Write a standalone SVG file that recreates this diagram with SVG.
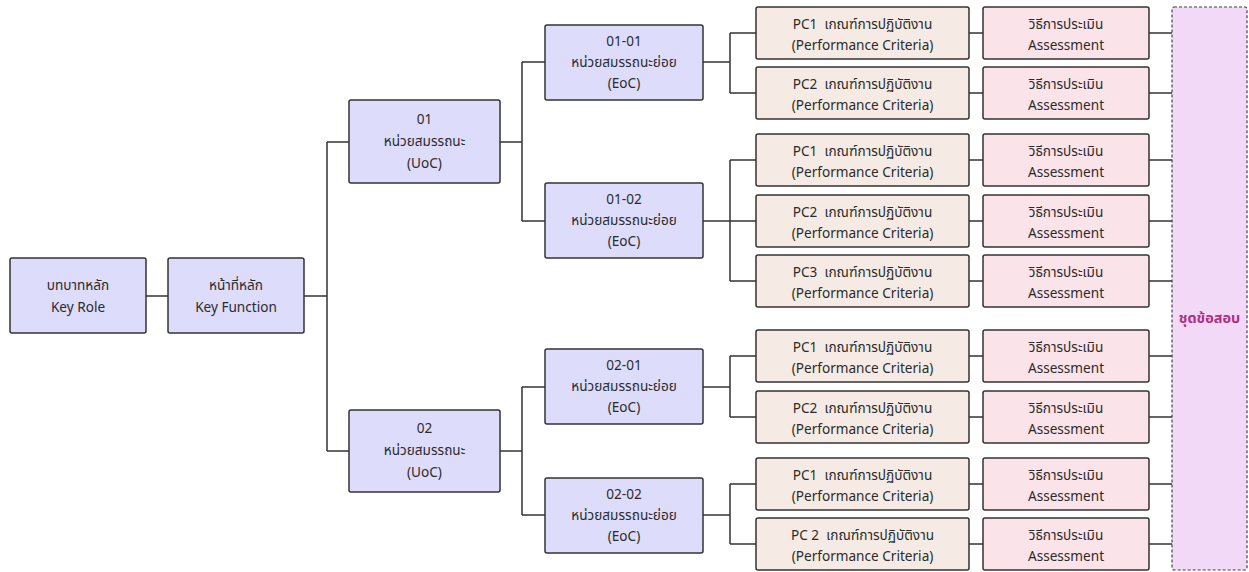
<svg xmlns="http://www.w3.org/2000/svg" width="1249" height="572" viewBox="0 0 1249 572">
<style>
text{font-family:"Noto Sans Thai","Tahoma","Liberation Sans",sans-serif;font-size:13.6px;fill:#2b2b2b;text-anchor:middle}
.box{stroke:#333;stroke-width:1.5}
.role{fill:#dedcfb}
.pc{fill:#f5ebe4}
.as{fill:#fbe3ea}
.set{fill:#f1d9f7;stroke:#444;stroke-width:1.2;stroke-dasharray:3 2}
.set-t{fill:#b03080;font-weight:bold;font-size:14.5px}
#connectors path{fill:none;stroke:#333;stroke-width:1.5}
</style>
<rect width="1249" height="572" fill="#fff"/>
<g id="connectors">
<path d="M146 296H168"/>
<path d="M304 296H327M327 142V451M327 142H349M327 451H349"/>
<path d="M500 142H522M522 62V221M522 62H545M522 221H545"/>
<path d="M500 451H522M522 387V515M522 387H545M522 515H545"/>
<path d="M703 62H730M730 33V93M730 33H756M730 93H756"/>
<path d="M703 221H730M730 160V281M730 160H756M730 221H756M730 281H756"/>
<path d="M703 387H730M730 356V417M730 356H756M730 417H756"/>
<path d="M703 515H730M730 484V544M730 484H756M730 544H756"/>
<path d="M969 33H983M969 93H983M969 160H983M969 221H983M969 281H983M969 356H983M969 417H983M969 484H983M969 544H983"/>
<path d="M1149 33H1172M1149 93H1172M1149 160H1172M1149 221H1172M1149 281H1172M1149 356H1172M1149 417H1172M1149 484H1172M1149 544H1172"/>
</g>
<g id="key-role"><rect class="box role" x="10" y="258" width="136" height="75" rx="2"/><text x="78" y="290">บทบาทหลัก</text><text x="78" y="312">Key Role</text></g>
<g id="key-function"><rect class="box role" x="168" y="258" width="136" height="75" rx="2"/><text x="236" y="290">หน้าที่หลัก</text><text x="236" y="312">Key Function</text></g>
<g id="uoc-01"><rect class="box role" x="349" y="100" width="151" height="83" rx="2"/><text x="424.5" y="124">01</text><text x="424.5" y="146">หน่วยสมรรถนะ</text><text x="424.5" y="168">(UoC)</text></g>
<g id="uoc-02"><rect class="box role" x="349" y="410" width="151" height="82" rx="2"/><text x="424.5" y="433">02</text><text x="424.5" y="455">หน่วยสมรรถนะ</text><text x="424.5" y="477">(UoC)</text></g>
<g id="eoc-01-01"><rect class="box role" x="545" y="25" width="158" height="75" rx="2"/><text x="624" y="46">01-01</text><text x="624" y="67">หน่วยสมรรถนะย่อย</text><text x="624" y="88">(EoC)</text></g>
<g id="eoc-01-02"><rect class="box role" x="545" y="183" width="158" height="75" rx="2"/><text x="624" y="204">01-02</text><text x="624" y="225">หน่วยสมรรถนะย่อย</text><text x="624" y="246">(EoC)</text></g>
<g id="eoc-02-01"><rect class="box role" x="545" y="349" width="158" height="75" rx="2"/><text x="624" y="370">02-01</text><text x="624" y="391">หน่วยสมรรถนะย่อย</text><text x="624" y="412">(EoC)</text></g>
<g id="eoc-02-02"><rect class="box role" x="545" y="478" width="158" height="75" rx="2"/><text x="624" y="499">02-02</text><text x="624" y="520">หน่วยสมรรถนะย่อย</text><text x="624" y="541">(EoC)</text></g>
<g id="pc-01-01-1"><rect class="box pc" x="756" y="7" width="213" height="52" rx="2"/><text x="862.5" y="29" xml:space="preserve">PC1  เกณฑ์การปฏิบัติงาน</text><text x="862.5" y="50">(Performance Criteria)</text></g>
<g id="pc-01-01-2"><rect class="box pc" x="756" y="67" width="213" height="52" rx="2"/><text x="862.5" y="89" xml:space="preserve">PC2  เกณฑ์การปฏิบัติงาน</text><text x="862.5" y="110">(Performance Criteria)</text></g>
<g id="pc-01-02-1"><rect class="box pc" x="756" y="134" width="213" height="52" rx="2"/><text x="862.5" y="156" xml:space="preserve">PC1  เกณฑ์การปฏิบัติงาน</text><text x="862.5" y="177">(Performance Criteria)</text></g>
<g id="pc-01-02-2"><rect class="box pc" x="756" y="195" width="213" height="52" rx="2"/><text x="862.5" y="217" xml:space="preserve">PC2  เกณฑ์การปฏิบัติงาน</text><text x="862.5" y="238">(Performance Criteria)</text></g>
<g id="pc-01-02-3"><rect class="box pc" x="756" y="255" width="213" height="52" rx="2"/><text x="862.5" y="277" xml:space="preserve">PC3  เกณฑ์การปฏิบัติงาน</text><text x="862.5" y="298">(Performance Criteria)</text></g>
<g id="pc-02-01-1"><rect class="box pc" x="756" y="330" width="213" height="52" rx="2"/><text x="862.5" y="352" xml:space="preserve">PC1  เกณฑ์การปฏิบัติงาน</text><text x="862.5" y="373">(Performance Criteria)</text></g>
<g id="pc-02-01-2"><rect class="box pc" x="756" y="391" width="213" height="52" rx="2"/><text x="862.5" y="413" xml:space="preserve">PC2  เกณฑ์การปฏิบัติงาน</text><text x="862.5" y="434">(Performance Criteria)</text></g>
<g id="pc-02-02-1"><rect class="box pc" x="756" y="458" width="213" height="52" rx="2"/><text x="862.5" y="480" xml:space="preserve">PC1  เกณฑ์การปฏิบัติงาน</text><text x="862.5" y="501">(Performance Criteria)</text></g>
<g id="pc-02-02-2"><rect class="box pc" x="756" y="518" width="213" height="52" rx="2"/><text x="862.5" y="540" xml:space="preserve">PC 2  เกณฑ์การปฏิบัติงาน</text><text x="862.5" y="561">(Performance Criteria)</text></g>
<g id="as-1"><rect class="box as" x="983" y="7" width="166" height="52" rx="2"/><text x="1066" y="29">วิธีการประเมิน</text><text x="1066" y="50">Assessment</text></g>
<g id="as-2"><rect class="box as" x="983" y="67" width="166" height="52" rx="2"/><text x="1066" y="89">วิธีการประเมิน</text><text x="1066" y="110">Assessment</text></g>
<g id="as-3"><rect class="box as" x="983" y="134" width="166" height="52" rx="2"/><text x="1066" y="156">วิธีการประเมิน</text><text x="1066" y="177">Assessment</text></g>
<g id="as-4"><rect class="box as" x="983" y="195" width="166" height="52" rx="2"/><text x="1066" y="217">วิธีการประเมิน</text><text x="1066" y="238">Assessment</text></g>
<g id="as-5"><rect class="box as" x="983" y="255" width="166" height="52" rx="2"/><text x="1066" y="277">วิธีการประเมิน</text><text x="1066" y="298">Assessment</text></g>
<g id="as-6"><rect class="box as" x="983" y="330" width="166" height="52" rx="2"/><text x="1066" y="352">วิธีการประเมิน</text><text x="1066" y="373">Assessment</text></g>
<g id="as-7"><rect class="box as" x="983" y="391" width="166" height="52" rx="2"/><text x="1066" y="413">วิธีการประเมิน</text><text x="1066" y="434">Assessment</text></g>
<g id="as-8"><rect class="box as" x="983" y="458" width="166" height="52" rx="2"/><text x="1066" y="480">วิธีการประเมิน</text><text x="1066" y="501">Assessment</text></g>
<g id="as-9"><rect class="box as" x="983" y="518" width="166" height="52" rx="2"/><text x="1066" y="540">วิธีการประเมิน</text><text x="1066" y="561">Assessment</text></g>
<g id="test-set"><rect class="set" x="1172" y="7" width="75" height="563" rx="2"/><text class="set-t" x="1209.5" y="323">ชุดข้อสอบ</text></g>
</svg>
